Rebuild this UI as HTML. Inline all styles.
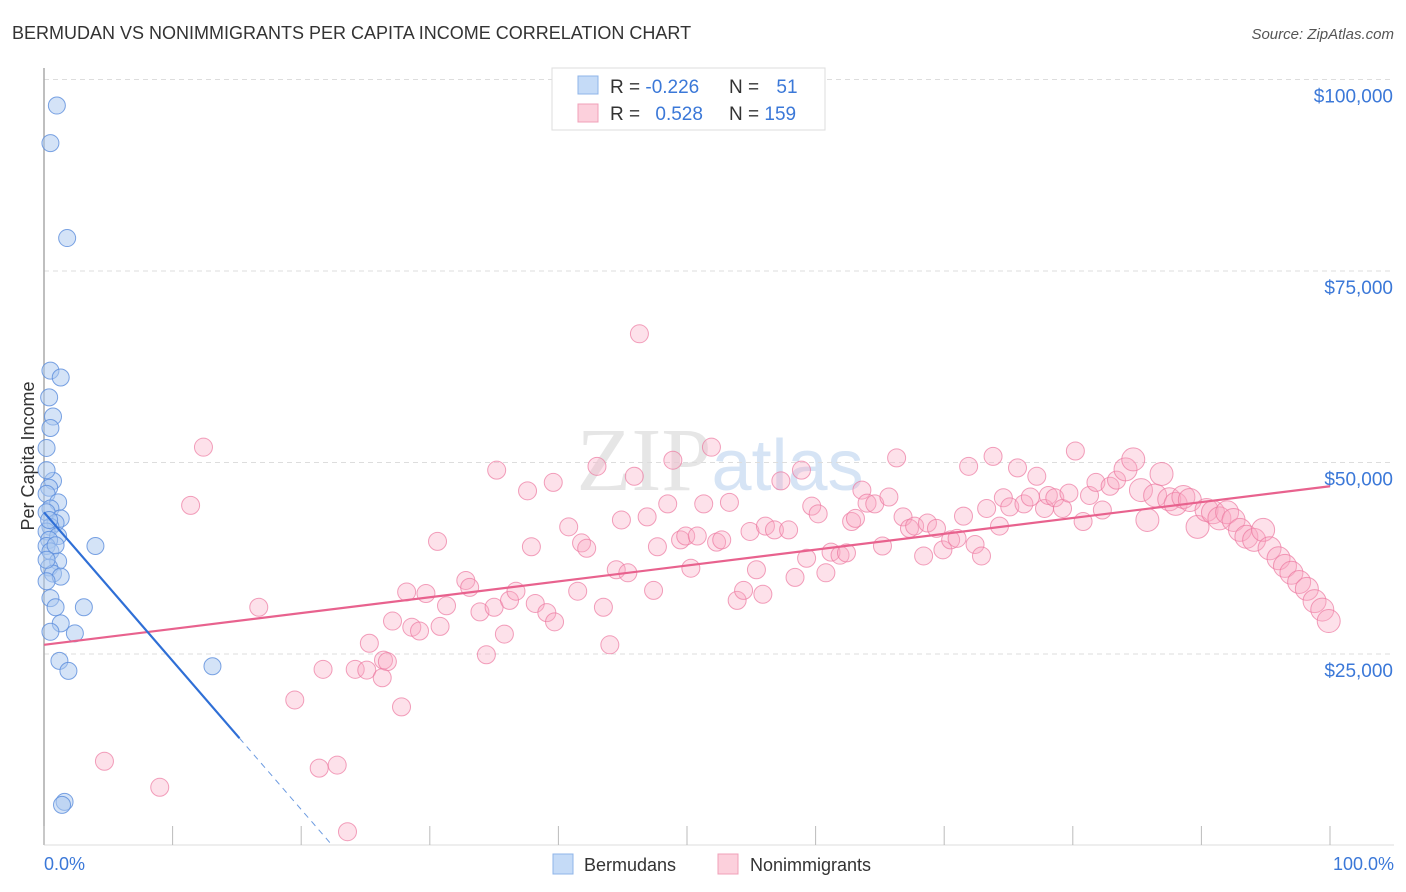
<!DOCTYPE html>
<html><head><meta charset="utf-8">
<style>
body{margin:0;background:#fff;font-family:"Liberation Sans",sans-serif;}
svg{display:block}
</style></head>
<body>
<svg id="chart" width="1406" height="892" viewBox="0 0 1406 892" xmlns="http://www.w3.org/2000/svg">
<text x="12" y="39" font-size="18" fill="#333">BERMUDAN VS NONIMMIGRANTS PER CAPITA INCOME CORRELATION CHART</text>
<text x="1394" y="39" font-size="15" fill="#555" text-anchor="end" font-style="italic">Source: ZipAtlas.com</text>
<text x="720" y="490" font-size="90" fill="#e6e6e6" text-anchor="middle" font-family="Liberation Serif, serif">ZIP<tspan fill="#d6e4f5" font-family="Liberation Sans, sans-serif" font-size="72">atlas</tspan></text>
<g id="grid"></g>
<line x1="44" y1="68" x2="44" y2="845" stroke="#aaa" stroke-width="1.5"/>
<line x1="44" y1="845" x2="1394" y2="845" stroke="#ddd" stroke-width="1"/>
<g id="xticks"></g>
<g id="ylabels"></g>
<text transform="translate(34,456) rotate(-90)" font-size="18" fill="#333" text-anchor="middle">Per Capita Income</text>
<text x="44" y="870" font-size="18" fill="#3b78d8">0.0%</text>
<text x="1394" y="870" font-size="18" fill="#3b78d8" text-anchor="end">100.0%</text>
<g id="pinkpts"></g>
<g id="bluepts"></g>
<g id="trends"></g>
<g>
<rect x="552" y="68" width="273" height="62" fill="#fff" stroke="#ddd"/>
<rect x="578" y="76" width="20" height="18" fill="#c5dbf7" stroke="#8fb4e8"/>
<rect x="578" y="104" width="20" height="18" fill="#fcd0dc" stroke="#f0a0b8"/>
<text x="610" y="93" font-size="19" fill="#333">R = <tspan fill="#3b78d8">-0.226</tspan></text>
<text x="729" y="93" font-size="19" fill="#333">N = <tspan fill="#3b78d8" dx="12">51</tspan></text>
<text x="610" y="120" font-size="19" fill="#333">R = <tspan fill="#3b78d8" dx="10">0.528</tspan></text>
<text x="729" y="120" font-size="19" fill="#333">N = <tspan fill="#3b78d8">159</tspan></text>
</g>
<g>
<rect x="553" y="854" width="20" height="20" fill="#c5dbf7" stroke="#8fb4e8"/>
<text x="584" y="871" font-size="18" fill="#333">Bermudans</text>
<rect x="718" y="854" width="20" height="20" fill="#fcd0dc" stroke="#f0a0b8"/>
<text x="750" y="871" font-size="18" fill="#333">Nonimmigrants</text>
</g>
</svg>
<script>
const yTicks=[25000,50000,75000,100000];
const yTickLabels=["$25,000","$50,000","$75,000","$100,000"];
const xTicks=[0,10,20,30,40,50,60,70,80,90,100];
const blueX=[1.0,0.5,1.8,0.5,1.3,0.4,0.7,0.5,0.2,0.7,0.4,0.2,1.1,0.5,0.2,1.3,0.9,0.5,0.2,1.1,0.4,0.2,0.5,4.0,1.1,0.4,0.7,1.3,0.2,0.5,0.9,3.1,1.3,0.5,2.4,1.2,1.9,13.1,1.6,1.4,0.2,0.4,0.9,0.2];
const blueY=[96.6,91.7,79.3,62,61.1,58.5,56,54.5,51.9,47.6,46.7,45.9,44.8,44,43.5,42.7,42.1,41.6,41,40.4,39.9,39.1,38.4,39.1,37.1,36.3,35.5,35.1,34.5,32.3,31.1,31.1,29,27.9,27.7,24.1,22.8,23.4,5.7,5.3,49,42.5,39.2,37.3];
const pinkX=[12.4,11.4,16.7,19.5,21.7,21.4,22.8,23.6,4.7,9.0,24.2,25.3,25.1,26.4,26.7,26.3,27.8,28.2,27.1,28.6,29.2,29.7,30.6,30.8,31.3,32.8,33.1,33.9,34.4,35.0,35.2,35.8,36.2,36.7,37.6,37.9,38.2,39.1,39.7,39.6,40.8,41.5,41.8,42.2,43.0,43.5,44.0,44.5,44.9,45.4,45.9,46.3,46.9,47.4,47.7,48.5,48.9,49.5,49.9,50.3,50.8,51.3,51.9,52.3,52.7,53.3,53.9,54.4,54.9,55.4,55.9,56.1,56.8,57.3,57.9,58.4,58.9,59.3,59.7,60.2,60.8,61.2,61.9,62.4,62.8,63.1,63.6,64.0,64.6,65.2,65.7,66.3,66.8,67.3,67.7,68.4,68.7,69.4,69.9,70.5,71.0,71.5,71.9,72.4,72.9,73.3,73.8,74.3,74.6,75.1,75.7,76.2,76.7,77.2,77.8,78.1,78.6,79.2,79.7,80.2,80.8,81.3,81.8,82.3,82.9,83.4,84.1,84.7,85.3,85.8,86.4,86.9,87.5,88.0,88.6,89.1,89.7,90.4,90.9,91.4,92.0,92.5,93.0,93.5,94.1,94.8,95.3,96.0,96.5,97.0,97.6,98.2,98.8,99.4,99.9];
const pinkY=[52.0,44.4,31.1,19.0,23.0,10.1,10.5,1.8,11.0,7.6,23.0,26.4,22.9,24.2,24.0,21.9,18.1,33.1,29.3,28.5,28.0,32.9,39.7,28.6,31.3,34.6,33.7,30.5,24.9,31.1,49.0,27.6,32.0,33.2,46.3,39.0,31.6,30.4,29.2,47.4,41.6,33.2,39.5,38.8,49.5,31.1,26.2,36.0,42.5,35.6,48.2,66.8,42.9,33.3,39.0,44.6,50.3,39.9,40.4,36.2,40.4,44.6,52.0,39.6,39.9,44.8,32.0,33.3,41.0,36.0,32.8,41.7,41.2,47.6,41.2,35.0,49.0,37.5,44.3,43.3,35.6,38.3,37.9,38.2,42.3,42.7,46.4,44.7,44.6,39.1,45.5,50.6,42.9,41.4,41.7,37.8,42.1,41.4,38.6,39.9,40.1,43.0,49.5,39.3,37.8,44.0,50.8,41.7,45.4,44.2,49.3,44.6,45.5,48.2,44.0,45.7,45.4,44.0,46.0,51.5,42.3,45.7,47.4,43.8,46.9,47.7,49.1,50.4,46.4,42.5,45.7,48.5,45.2,44.6,45.5,45.1,41.6,43.8,43.5,42.7,43.5,42.5,41.2,40.3,39.9,41.2,38.8,37.5,36.5,35.6,34.4,33.5,31.9,30.8,29.3];
const blueTrend=[43.5,-1.94];   // intercept (k$), slope per %
const pinkTrend=[26.2,46.9];    // value at 0% and 100%
const NS="http://www.w3.org/2000/svg";
const X=p=>44+p*12.86;
const Y=k=>845.5-k*1000*191.5/25000;
function mk(tag,attrs,parent){const e=document.createElementNS(NS,tag);for(const k in attrs)e.setAttribute(k,attrs[k]);parent.appendChild(e);return e;}
const grid=document.getElementById('grid'),yl=document.getElementById('ylabels');
yTicks.forEach((v,i)=>{
 const l=mk('line',{x1:44,x2:1394,y1:Y(v/1000),y2:Y(v/1000),stroke:'#ddd','stroke-dasharray':'5,4'},grid);
 
 
 const t=mk('text',{x:1393,y:Y(v/1000)+23,'font-size':19,fill:'#3b78d8','text-anchor':'end'},yl);
 t.textContent=yTickLabels[i];
 
 
});
const xt=document.getElementById('xticks');
xTicks.forEach(v=>{
 const l=mk('line',{x1:X(v),x2:X(v),y1:826,y2:845,stroke:'#bbb'},xt);
 
 
});
const pg=document.getElementById('pinkpts');
pinkX.forEach((x,i)=>{
 const c=mk('circle',{cx:X(x),cy:Y(pinkY[i]),r:x>84?11.5:9,fill:'rgba(248,170,195,0.35)',stroke:'rgba(236,120,160,0.7)','stroke-width':1},pg);
 
 
});
const bg=document.getElementById('bluepts');
blueX.forEach((x,i)=>{
 const c=mk('circle',{cx:X(x),cy:Y(blueY[i]),r:8.5,fill:'rgba(170,200,240,0.5)',stroke:'rgba(90,140,220,0.8)','stroke-width':1},bg);
 
 
});
const tg=document.getElementById('trends');
const pl=mk('line',{x1:X(0),y1:Y(pinkTrend[0]),x2:X(100),y2:Y(pinkTrend[1]),stroke:'#e8628e','stroke-width':2.2},tg);


const bEnd=15.2, bZero=blueTrend[0]/-blueTrend[1];
const bl=mk('line',{x1:X(0),y1:Y(blueTrend[0]),x2:X(bEnd),y2:Y(blueTrend[0]+blueTrend[1]*bEnd),stroke:'#2f6fd6','stroke-width':2.2},tg);


const bd=mk('line',{x1:X(bEnd),y1:Y(blueTrend[0]+blueTrend[1]*bEnd),x2:X(bZero),y2:Y(0),stroke:'#6d9be0','stroke-width':1,'stroke-dasharray':'6,5'},tg);


</script>
</body></html>
